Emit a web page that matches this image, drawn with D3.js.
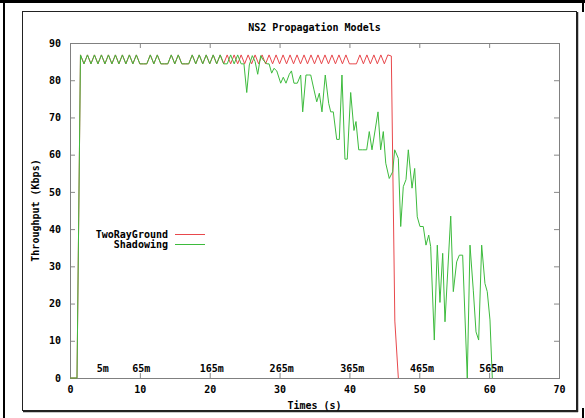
<!DOCTYPE html>
<html><head><meta charset="utf-8">
<script src="https://cdn.jsdelivr.net/npm/d3@7/dist/d3.min.js"></script>
<style>
html,body{margin:0;padding:0;background:#fff;}
svg{display:block;}
text{font-family:"DejaVu Sans Mono",monospace;font-weight:bold;font-size:10px;fill:#000;}
</style></head>
<body>
<svg id="chart" width="585" height="418"></svg>
<script>
// ---- data ----
const title = "NS2 Propagation Models";
const xLabel = "Times (s)";
const yLabel = "Throughput (Kbps)";
const seriesNames = ["TwoRayGround", "Shadowing"];
const xTicks = [0, 10, 20, 30, 40, 50, 60, 70];
const yTicks = [0, 10, 20, 30, 40, 50, 60, 70, 80, 90];
const distanceLabels = ["5m", "65m", "165m", "265m", "365m", "465m", "565m"];
const distanceAt = [4.7, 10.2, 20.3, 30.3, 40.4, 50.4, 60.3];

// part where both series coincide
const sharedTimes = [0, 1, 1.5, 2, 2.5, 3, 3.5, 4, 4.5, 5, 5.5, 6, 6.5, 7, 7.5, 8, 8.5, 9, 9.5, 10,
  10.5, 11, 11.5, 12, 12.5, 13, 13.5, 14, 14.5, 15, 15.5, 16, 16.5, 17, 17.5, 18, 18.5, 19, 19.5, 20,
  20.5, 21, 21.5];
const sharedValues = [0, 0, 86.8, 84.4, 86.8, 84.4, 86.8, 84.4, 86.8, 84.4, 86.8, 84.4, 86.8, 84.4, 86.8, 84.4, 86.8, 84.4, 86.8, 84.4,
  84.4, 84.4, 86.8, 84.4, 86.8, 84.4, 84.4, 84.4, 86.8, 84.4, 86.8, 84.4, 84.4, 84.4, 86.8, 84.4, 86.8, 84.4, 86.8, 84.4,
  86.8, 84.4, 86.8];

// TwoRayGround after 22 s
const redTimes = [22, 22.5, 23, 23.5, 24, 24.5, 25, 25.5, 26, 26.5, 27, 27.5, 28, 28.5, 29, 29.5, 30, 30.5, 31, 31.5,
  32, 32.5, 33, 33.5, 34, 34.5, 35, 35.5, 36, 36.5, 37, 37.5, 38, 38.5, 39, 39.5, 40, 40.5, 41, 41.5,
  42, 42.5, 43, 43.5, 44, 44.5, 45, 45.5, 46, 46.5, 47];
const redValues = [84.4, 86.8, 84.4, 86.8, 84.4, 86.8, 84.4, 86.8, 84.4, 86.8, 84.4, 86.8, 84.4, 86.8, 84.4, 86.8, 84.4, 86.8, 84.4, 86.8,
  84.4, 86.8, 84.4, 86.8, 84.4, 86.8, 84.4, 86.8, 84.4, 86.8, 84.4, 86.8, 84.4, 86.8, 84.4, 86.8, 84.4, 84.4, 84.4, 86.8,
  84.4, 86.8, 84.4, 86.8, 84.4, 86.8, 84.4, 86.8, 86.5, 15.3, 0];

// Shadowing after 22 s
const greenTimes = [22, 22.5, 23, 23.5, 24, 24.5, 24.9, 25.3, 25.67, 26.1, 26.5, 26.87, 27.3, 27.67, 28.16, 28.5, 28.87, 29.2, 29.6, 30.16,
  30.53, 30.92, 31.39, 31.7, 32.06, 32.54, 33.02, 33.31, 33.78, 34.1, 34.46, 34.93, 35.32, 35.69, 36.07, 36.54, 37.03, 37.32, 37.69, 38.18,
  38.55, 38.93, 39.36, 39.69, 40.18, 40.65, 40.94, 41.33, 41.9, 42.47, 42.84, 43.23, 44.09, 44.47, 44.85, 45.2, 45.7, 46.19, 46.48, 47.0,
  47.34, 47.71, 48.1, 48.43, 48.96, 49.34, 49.71, 50.1, 50.57, 50.96, 51.35, 51.63, 52.15, 52.58, 52.96, 53.35, 53.68, 54.5, 54.87, 55.35,
  55.73, 56.21, 56.87, 57.26, 57.73, 58.12, 58.5, 58.93, 59.4, 59.73, 60.12, 60.45];
const greenValues = [84.4, 84.4, 86.8, 84.4, 86.8, 84.4, 84.4, 76.7, 84.1, 86.6, 85.0, 81.6, 86.6, 85.4, 84.4, 84.4, 81.9, 83.2, 82.5, 79.2,
  80.8, 79.2, 81.6, 82.5, 79.2, 79.2, 81.4, 71.5, 81.4, 81.4, 81.4, 77.4, 74.2, 76.5, 71.5, 81.4, 73.8, 71.5, 71.5, 64.1,
  64.1, 81.4, 58.8, 58.8, 76.7, 66.5, 68.9, 61.3, 61.3, 61.3, 66.2, 61.3, 71.5, 61.3, 66.2, 57.7, 53.6, 55.4, 61.3, 59.0,
  40.7, 51.4, 53.3, 61.3, 51.0, 56.3, 43.3, 40.7, 40.7, 35.7, 38.4, 35.3, 10.2, 35.7, 20.3, 33.5, 15.1, 43.5, 23.2, 31.2,
  33.0, 33.0, 0, 35.7, 23.6, 12.4, 10.2, 35.7, 25.4, 23.2, 15.6, 0];

const colors = ["#e8484c", "#3dbb3d"];

// ---- build series ----
const zip = (ts, vs) => ts.map((t, i) => ({t: t, v: vs[i]}));
const shared = zip(sharedTimes, sharedValues);
const series = [
  shared.concat(zip(redTimes, redValues)),
  shared.concat(zip(greenTimes, greenValues))
];

const svg = d3.select("#chart");
const W = 585, H = 418;
const plot = {left: 70, right: 559, top: 43, bottom: 378};

const x = d3.scaleLinear().domain([0, 70]).range([plot.left, plot.right]);
const y = d3.scaleLinear().domain([0, 90]).range([plot.bottom, plot.top]);

// window-ish borders
svg.append("rect").attr("x", 0).attr("y", 0).attr("width", W).attr("height", 3).attr("fill", "#000");
svg.append("rect").attr("x", 3).attr("y", 0).attr("width", 2).attr("height", H).attr("fill", "#000");
svg.append("rect").attr("x", 582).attr("y", 0).attr("width", 2).attr("height", 12).attr("fill", "#000");
svg.append("rect").attr("x", 582).attr("y", 408).attr("width", 2).attr("height", 10).attr("fill", "#000");

// inner frame
svg.append("rect").attr("x", 22.5).attr("y", 11.5).attr("width", 554).attr("height", 399)
  .attr("fill", "none").attr("stroke", "#222").attr("stroke-width", 1);
svg.append("line").attr("x1", 577.5).attr("x2", 577.5).attr("y1", 12).attr("y2", 412).attr("stroke", "#222").attr("stroke-width", 1.5);
svg.append("line").attr("x1", 23).attr("x2", 578).attr("y1", 411.5).attr("y2", 411.5).attr("stroke", "#222").attr("stroke-width", 1.5);

// axes with inward ticks
const tickColor = "#888";
function styleAxis(g) {
  g.select(".domain").remove();
  g.selectAll(".tick line").attr("stroke", tickColor);
  g.selectAll(".tick text").attr("font-family", "DejaVu Sans Mono").attr("font-weight", "bold").attr("font-size", 10).attr("fill", "#000");
}
svg.append("g").attr("transform", `translate(0,${plot.bottom})`)
  .call(d3.axisBottom(x).tickValues(xTicks).tickSize(-5).tickPadding(8).tickFormat(d3.format("d")))
  .call(styleAxis);
svg.append("g").attr("transform", `translate(0,${plot.top})`)
  .call(d3.axisTop(x).tickValues(xTicks).tickSize(-5).tickFormat(""))
  .call(styleAxis);
svg.append("g").attr("transform", `translate(${plot.left},0)`)
  .call(d3.axisLeft(y).tickValues(yTicks).tickSize(-5).tickPadding(9).tickFormat(d3.format("d")))
  .call(styleAxis);
svg.append("g").attr("transform", `translate(${plot.right},0)`)
  .call(d3.axisRight(y).tickValues(yTicks).tickSize(-5).tickFormat(""))
  .call(styleAxis);

// plot border
svg.append("rect").attr("x", plot.left + 0.5).attr("y", plot.top + 0.5)
  .attr("width", plot.right - plot.left).attr("height", plot.bottom - plot.top)
  .attr("fill", "none").attr("stroke", "#808080").attr("stroke-width", 1);

// lines
const line = d3.line().x(d => x(d.t)).y(d => y(d.v));
series.forEach((s, i) => {
  svg.append("path").datum(s).attr("d", line)
    .attr("fill", "none").attr("stroke", colors[i]).attr("stroke-width", 1)
    .attr("stroke-linejoin", "miter");
});

// distance labels
svg.append("g").selectAll("text").data(distanceLabels).join("text")
  .attr("x", (d, i) => x(distanceAt[i])).attr("y", y(0) - 6)
  .attr("text-anchor", "middle").text(d => d);

// legend
const legend = svg.append("g");
seriesNames.forEach((n, i) => {
  const ly = 234 + i * 10;
  legend.append("text").attr("x", 168).attr("y", ly).attr("dy", "0.35em").attr("text-anchor", "end").text(n);
  legend.append("line").attr("x1", 175).attr("x2", 205).attr("y1", ly + 0.5).attr("y2", ly + 0.5)
    .attr("stroke", colors[i]).attr("stroke-width", 1);
});

// titles
svg.append("text").attr("x", (plot.left + plot.right) / 2).attr("y", 27).attr("dy", "0.35em")
  .attr("text-anchor", "middle").text(title);
svg.append("text").attr("x", (plot.left + plot.right) / 2).attr("y", 405).attr("dy", "0.35em")
  .attr("text-anchor", "middle").text(xLabel);
svg.append("text").attr("transform", `translate(35,${(plot.top + plot.bottom) / 2}) rotate(-90)`)
  .attr("dy", "0.35em").attr("text-anchor", "middle").text(yLabel);
</script>
</body></html>
